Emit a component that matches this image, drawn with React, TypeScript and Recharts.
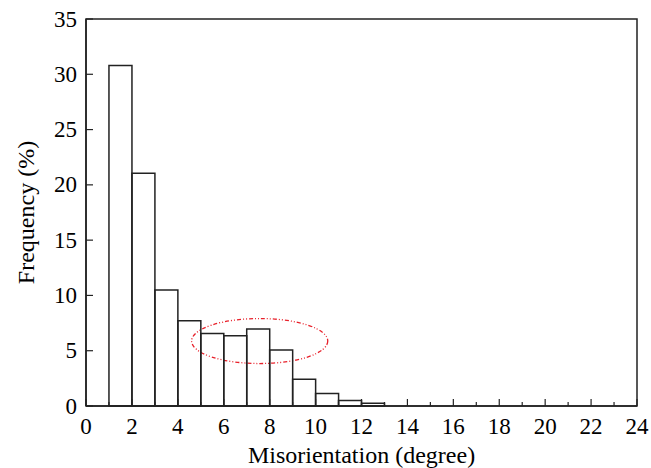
import { BarChart, Bar, XAxis, YAxis, ReferenceArea } from 'recharts';

// histogram bins (degree), start of each bin
const binStarts = [1, 2, 3, 4, 5, 6, 7, 8, 9, 10, 11, 12];
const frequency = [30.8, 21.05, 10.5, 7.7, 6.55, 6.35, 6.97, 5.07, 2.42, 1.12, 0.49, 0.25];

const xTicks = [0, 1, 2, 3, 4, 5, 6, 7, 8, 9, 10, 11, 12, 13, 14, 15, 16, 17, 18, 19, 20, 21, 22, 23, 24];
const yTicks = [0, 5, 10, 15, 20, 25, 30, 35];

// dashed ellipse around the 5-10 degree bump
const ellipseX = [4.6, 10.53];
const ellipseY = [3.84, 7.91];

const data = binStarts.map((s, i) => ({ x: s + 0.5, freq: frequency[i] }));

const FONT = '"Liberation Serif", "Times New Roman", serif';
const INK = '#222';
const XGAP = 12;
const YGAP = 9;

const XTick = (props: any) => {
  const { x, y, payload } = props;
  const major = payload.value % 2 === 0;
  return (
    <g>
      <line x1={x} y1={y - XGAP} x2={x} y2={y - XGAP - (major ? 7 : 4)} stroke={INK} strokeWidth={1.2} />
      {major && (
        <text x={x} y={y} dy="0.68em" textAnchor="middle" style={{ fontFamily: FONT, fontSize: 23 }} fill="#000">
          {payload.value}
        </text>
      )}
    </g>
  );
};

const YTick = (props: any) => {
  const { x, y, payload } = props;
  return (
    <g>
      <line x1={x + YGAP} y1={y} x2={x + YGAP + 7} y2={y} stroke={INK} strokeWidth={1.2} />
      <text x={x} y={y} dy="0.33em" textAnchor="end" style={{ fontFamily: FONT, fontSize: 23 }} fill="#000">
        {payload.value}
      </text>
    </g>
  );
};

const Ellipse = (props: any) => {
  const { x, y, width, height } = props;
  return (
    <ellipse
      cx={x + width / 2}
      cy={y + height / 2}
      rx={width / 2}
      ry={height / 2}
      fill="none"
      stroke="#e8202a"
      strokeWidth={1.3}
      strokeDasharray="4 2 1 2 1 2"
    />
  );
};

const App = () => {
  return (
    <div style={{ position: 'absolute', left: 0, top: 0, width: 651, height: 468, background: '#fff' }}>
      <BarChart
        width={651}
        height={468}
        data={data}
        barCategoryGap={0}
        barGap={0}
        margin={{ top: 19, right: 14, bottom: 0, left: 0 }}
      >
        <XAxis
          dataKey="x"
          type="number"
          domain={[0, 24]}
          ticks={xTicks}
          interval={0}
          tickSize={0}
          tickMargin={XGAP}
          tick={<XTick />}
          axisLine={{ stroke: INK, strokeWidth: 1.5 }}
          height={62}
          label={{ value: 'Misorientation (degree)', position: 'insideBottom', offset: 5, style: { fontFamily: FONT, fontSize: 24 }, fill: '#000' }}
        />
        <YAxis
          type="number"
          domain={[0, 35]}
          ticks={yTicks}
          interval={0}
          tickSize={0}
          tickMargin={YGAP}
          tick={<YTick />}
          axisLine={{ stroke: INK, strokeWidth: 1.5 }}
          width={86}
          label={{ value: 'Frequency (%)', angle: -90, position: 'insideLeft', offset: 25, style: { textAnchor: 'middle', fontFamily: FONT, fontSize: 24 }, fill: '#000' }}
        />
        <ReferenceArea x1={0} x2={24} y1={0} y2={35} fill="none" stroke={INK} strokeWidth={1.5} />
        <ReferenceArea x1={ellipseX[0]} x2={ellipseX[1]} y1={ellipseY[0]} y2={ellipseY[1]} shape={<Ellipse />} />
        <Bar dataKey="freq" fill="none" stroke={INK} strokeWidth={1.5} isAnimationActive={false} />
      </BarChart>
    </div>
  );
};

export default App;
